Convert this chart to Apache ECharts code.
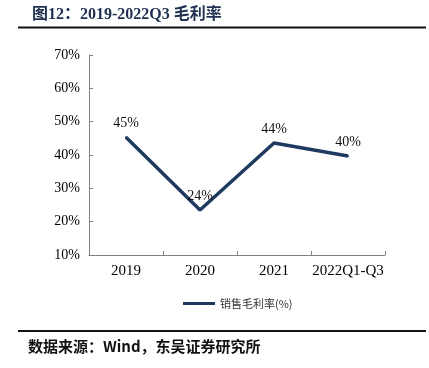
<!DOCTYPE html>
<html>
<head>
<meta charset="utf-8">
<script src="https://cdn.jsdelivr.net/npm/echarts@6/dist/echarts.min.js"></script>
<style>
html, body { margin: 0; padding: 0; background: #fff; }
#main { width: 429px; height: 368px; }
</style>
</head>
<body>
<div id="main"></div>
<script>
var categories = ['2019', '2020', '2021', '2022Q1-Q3'];
var grossMargin = [45.3, 23.5, 43.6, 39.7];
var marginLabels = ['45%', '24%', '44%', '40%'];
var seriesName = '销售毛利率(%)';

var chart = echarts.init(document.getElementById('main'));
var serif = '"Liberation Serif", "Times New Roman", "Noto Sans CJK SC", serif';

var option = {
    animation: false,
    backgroundColor: '#fff',
    title: {
        text: '图12：2019-2022Q3 毛利率',
        left: 27,
        top: 2,
        textStyle: {
            color: '#1f3050',
            fontSize: 16,
            fontWeight: 'bold',
            fontFamily: '"Liberation Serif", "Noto Sans CJK SC", serif'
        }
    },
    graphic: [{
        type: 'line',
        shape: { x1: 18, y1: 27.5, x2: 426, y2: 27.5 },
        style: { stroke: '#111', lineWidth: 2 }
    }, {
        type: 'line',
        shape: { x1: 18, y1: 331, x2: 426, y2: 331 },
        style: { stroke: '#111', lineWidth: 2 }
    }, {
        type: 'text',
        left: 28,
        top: 339,
        style: {
            text: '数据来源：Wind，东吴证券研究所',
            fill: '#111',
            font: 'bold 15px "Noto Sans CJK SC", sans-serif'
        }
    }],
    legend: {
        data: [seriesName],
        left: 183,
        top: 298,
        padding: 0,
        itemWidth: 32,
        itemHeight: 3,
        itemGap: 4,
        icon: 'rect',
        itemStyle: { color: '#1f3a60', opacity: 1 },
        textStyle: {
            color: '#333',
            fontSize: 11,
            fontFamily: '"Noto Sans CJK SC", sans-serif'
        }
    },
    grid: {
        left: 89,
        right: 44,
        top: 55,
        bottom: 113
    },
    xAxis: {
        type: 'category',
        data: categories,
        axisLine: { lineStyle: { color: '#808080', width: 1 } },
        axisTick: { show: true, alignWithLabel: false, length: 4, inside: true, lineStyle: { color: '#808080' } },
        axisLabel: {
            interval: 0,
            color: '#000',
            fontSize: 15,
            fontFamily: serif,
            margin: 9
        },
        splitLine: { show: false }
    },
    yAxis: {
        type: 'value',
        min: 10,
        max: 70,
        interval: 10,
        axisLine: { show: true, lineStyle: { color: '#808080', width: 1 } },
        axisTick: { show: true, length: 4, inside: true, lineStyle: { color: '#808080' } },
        axisLabel: {
            color: '#000',
            fontSize: 14,
            fontFamily: serif,
            margin: 9,
            formatter: '{value}%'
        },
        splitLine: { show: false }
    },
    series: [{
        name: seriesName,
        type: 'line',
        data: grossMargin,
        symbol: 'circle',
        symbolSize: 2,
        showSymbol: true,
        color: '#1f3a60',
        itemStyle: { color: '#1f3a60' },
        lineStyle: { color: '#1f3a60', width: 3.5 },
        label: {
            show: true,
            position: 'top',
            distance: 6,
            color: '#111',
            fontSize: 14,
            fontFamily: serif,
            formatter: function (p) { return marginLabels[p.dataIndex]; }
        }
    }]
};
chart.setOption(option);
</script>
</body>
</html>
